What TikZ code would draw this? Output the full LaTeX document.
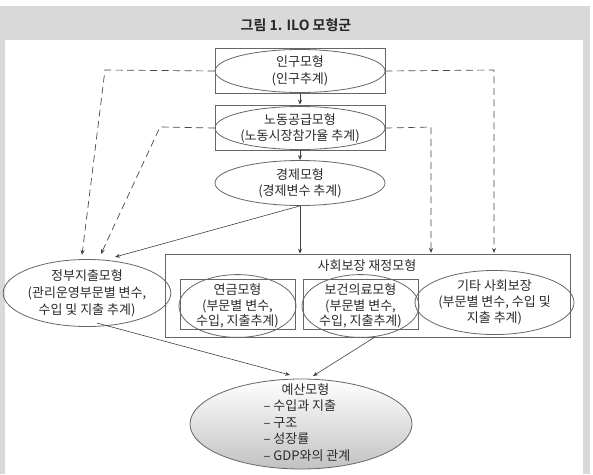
\documentclass[tikz,border=0pt]{standalone}
\usepackage{fontspec}
\setmainfont{Noto Sans CJK KR}
\newfontfamily\titlefont{Noto Sans CJK KR Bold}
\usetikzlibrary{shapes.geometric,arrows.meta}
\definecolor{panelgray}{HTML}{D9D9D9}
\definecolor{linegray}{HTML}{666666}
\definecolor{inkgray}{HTML}{2B2B2B}
\begin{document}
\begin{tikzpicture}[x=1pt,y=-1pt,
  every node/.style={text=inkgray,font=\fontsize{13}{16}\selectfont},
  modelbox/.style={draw=linegray,line width=0.8pt,rectangle,inner sep=0pt},
  modelell/.style={draw=linegray,line width=0.8pt,ellipse,inner sep=0pt,align=center},
  flow/.style={draw=black!75,line width=0.6pt,-{Stealth[length=5pt,width=4pt]}},
  dflow/.style={draw=black!72,line width=0.7pt,dash pattern=on 7pt off 4.5pt,-{Stealth[length=5pt,width=4pt]}}]
\useasboundingbox (0,0) rectangle (593,474);
% panel background
\fill[panelgray] (0,6) rectangle (590,474);
\fill[white] (5,40) rectangle (583,474);
\node[font=\titlefont\fontsize{14}{16}\selectfont,text=black!85] (title) at (296,25) {그림 1. ILO 모형군};

% top chain
\node[modelbox,minimum width=170,minimum height=45] (popbox) at (300,71) {};
\node[modelell,minimum width=170,minimum height=43,font=\fontsize{13}{17}\selectfont] (pop) at (300,71) {인구모형\\(인구추계)};
\node[modelbox,minimum width=170,minimum height=45] (labbox) at (300,127.5) {};
\node[modelell,minimum width=170,minimum height=43] (lab) at (300,128) {노동공급모형\\(노동시장참가율 추계)};
\node[modelell,minimum width=170,minimum height=45] (econ) at (300,183) {경제모형\\(경제변수 추계)};

% social security group
\node[modelbox,minimum width=405,minimum height=83] (ssbox) at (367.5,295.5) {};
\node (sstitle) at (367,266) {사회보장 재정모형};
\node[modelbox,minimum width=115,minimum height=50] (penbox) at (237.5,304) {};
\node[modelell,minimum width=117,minimum height=49,font=\fontsize{13}{15.5}\selectfont] (pen) at (237.5,306) {연금모형\\(부문별 변수,\\수입, 지출추계)};
\node[modelbox,minimum width=115,minimum height=50] (hlthbox) at (360.5,304) {};
\node[modelell,minimum width=117,minimum height=49,font=\fontsize{13}{15.5}\selectfont] (hlth) at (360.5,306) {보건의료모형\\(부문별 변수,\\수입, 지출추계)};
\node[modelell,minimum width=143,minimum height=61,font=\fontsize{13}{16}\selectfont] (other) at (494.5,302.5) {기타 사회보장\\(부문별 변수, 수입 및\\지출 추계)};

% government expenditure
\node[modelell,minimum width=140,minimum height=60,font=\fontsize{13}{17}\selectfont] (gov) at (87,293) {정부지출모형\\(관리운영부문별 변수,\\수입 및 지출 추계)};

% budget model
\node[modelell,minimum width=222,minimum height=90,top color=white,bottom color=black!24] (budget) at (301,424) {};
\node[font=\fontsize{13}{16.5}\selectfont,align=left,anchor=north west] (blist) at (260,380) {\hspace*{18pt}예산모형\\– 수입과 지출\\– 구조\\– 성장률\\– GDP와의 관계};

% connector bends and tips
\coordinate (popL) at (105,70);
\coordinate (popT) at (82,255);
\coordinate (labL) at (160,127);
\coordinate (labT) at (101,254);
\coordinate (popR) at (494,70);
\coordinate (popRT) at (494,253);
\coordinate (labR) at (431,127);
\coordinate (labRT) at (431,253);
\coordinate (econT) at (115,257);
\coordinate (govS) at (97,323);
\coordinate (budIn1) at (290,375);
\coordinate (hlthS) at (375,337);
\coordinate (budIn2) at (313,376);

% solid flows
\draw[flow] (popbox.south) -- (labbox.north);
\draw[flow] (labbox.south) -- (econ.north);
\draw[flow] (econ.south) -- (econ.south |- ssbox.north);
\draw[flow] (econ.south) -- (econT);
\draw[flow] (govS) -- (budIn1);
\draw[flow] (hlthS) -- (budIn2);

% dashed feeds
\draw[dflow] (pop.west) -- (popL) -- (popT);
\draw[dflow] (lab.west) -- (labL) -- (labT);
\draw[dflow] (pop.east) -- (popR) -- (popRT);
\draw[dflow] (lab.east) -- (labR) -- (labRT);
\end{tikzpicture}
\end{document}
